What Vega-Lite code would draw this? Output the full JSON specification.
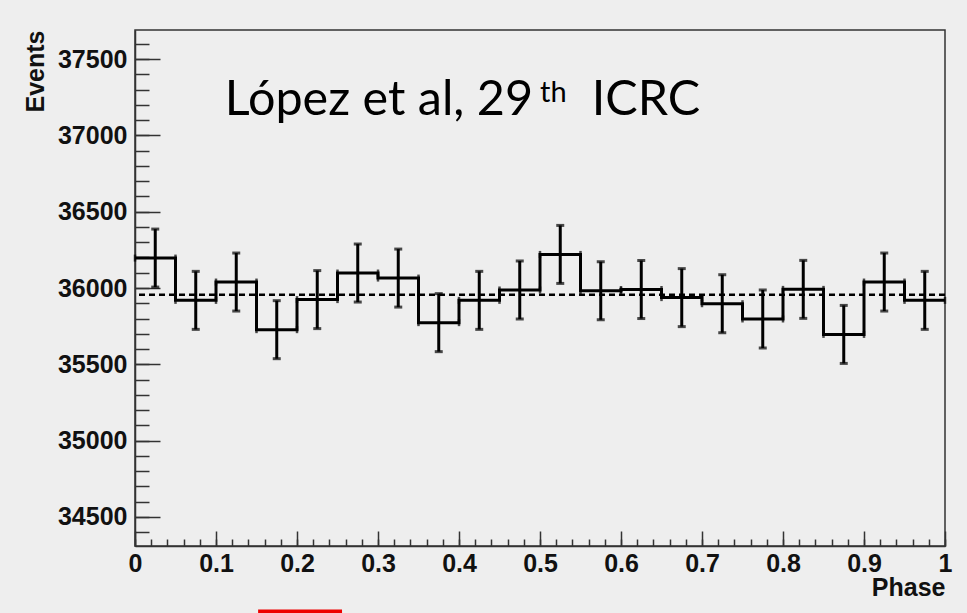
{
  "$schema": "https://vega.github.io/schema/vega-lite/v6.json",
  "width": 810,
  "height": 516,
  "autosize": "none",
  "padding": {"left": 135, "top": 30, "right": 22, "bottom": 67},
  "background": "#eeeeee",
  "view": {"stroke": "#333333", "strokeWidth": 1.5, "fill": null},
  "config": {
    "axis": {
      "labelFont": "Liberation Sans", "labelFontWeight": "bold", "labelFontSize": 25, "labelColor": "#111111",
      "domainColor": "#333333", "domainWidth": 1.5, "tickColor": "#333333", "tickWidth": 1.5, "grid": false,
      "titleFont": "Liberation Sans", "titleFontWeight": "bold", "titleFontSize": 25, "titleColor": "#111111",
      "labelFlush": false, "labelOverlap": false
    }
  },
  "datasets": {
    "bins": [
      {"phase": 0.025, "x0": 0.0, "x1": 0.05, "events": 36196, "lo": 36006, "hi": 36386},
      {"phase": 0.075, "x0": 0.05, "x1": 0.1, "events": 35919, "lo": 35729, "hi": 36109},
      {"phase": 0.125, "x0": 0.1, "x1": 0.15, "events": 36039, "lo": 35849, "hi": 36229},
      {"phase": 0.175, "x0": 0.15, "x1": 0.2, "events": 35727, "lo": 35537, "hi": 35917},
      {"phase": 0.225, "x0": 0.2, "x1": 0.25, "events": 35924, "lo": 35734, "hi": 36114},
      {"phase": 0.275, "x0": 0.25, "x1": 0.3, "events": 36098, "lo": 35908, "hi": 36288},
      {"phase": 0.325, "x0": 0.3, "x1": 0.35, "events": 36065, "lo": 35875, "hi": 36255},
      {"phase": 0.375, "x0": 0.35, "x1": 0.4, "events": 35773, "lo": 35583, "hi": 35963},
      {"phase": 0.425, "x0": 0.4, "x1": 0.45, "events": 35919, "lo": 35729, "hi": 36109},
      {"phase": 0.475, "x0": 0.45, "x1": 0.5, "events": 35987, "lo": 35797, "hi": 36177},
      {"phase": 0.525, "x0": 0.5, "x1": 0.55, "events": 36220, "lo": 36030, "hi": 36410},
      {"phase": 0.575, "x0": 0.55, "x1": 0.6, "events": 35982, "lo": 35792, "hi": 36172},
      {"phase": 0.625, "x0": 0.6, "x1": 0.65, "events": 35990, "lo": 35800, "hi": 36180},
      {"phase": 0.675, "x0": 0.65, "x1": 0.7, "events": 35937, "lo": 35747, "hi": 36127},
      {"phase": 0.725, "x0": 0.7, "x1": 0.75, "events": 35897, "lo": 35707, "hi": 36087},
      {"phase": 0.775, "x0": 0.75, "x1": 0.8, "events": 35797, "lo": 35607, "hi": 35987},
      {"phase": 0.825, "x0": 0.8, "x1": 0.85, "events": 35991, "lo": 35801, "hi": 36181},
      {"phase": 0.875, "x0": 0.85, "x1": 0.9, "events": 35696, "lo": 35506, "hi": 35886},
      {"phase": 0.925, "x0": 0.9, "x1": 0.95, "events": 36039, "lo": 35849, "hi": 36229},
      {"phase": 0.975, "x0": 0.95, "x1": 1.0, "events": 35919, "lo": 35729, "hi": 36109}
    ],
    "steps": [
      {"edge": 0.0, "events": 36196}, {"edge": 0.05, "events": 35919}, {"edge": 0.1, "events": 36039},
      {"edge": 0.15, "events": 35727}, {"edge": 0.2, "events": 35924}, {"edge": 0.25, "events": 36098},
      {"edge": 0.3, "events": 36065}, {"edge": 0.35, "events": 35773}, {"edge": 0.4, "events": 35919},
      {"edge": 0.45, "events": 35987}, {"edge": 0.5, "events": 36220}, {"edge": 0.55, "events": 35982},
      {"edge": 0.6, "events": 35990}, {"edge": 0.65, "events": 35937}, {"edge": 0.7, "events": 35897},
      {"edge": 0.75, "events": 35797}, {"edge": 0.8, "events": 35991}, {"edge": 0.85, "events": 35696},
      {"edge": 0.9, "events": 36039}, {"edge": 0.95, "events": 35919}, {"edge": 1.0, "events": 35919}
    ],
    "one": [{}]
  },
  "layer": [
    {
      "data": {"name": "one"},
      "mark": {"type": "rule", "color": "#000000", "strokeWidth": 2.5, "strokeDash": [6, 4]},
      "encoding": {
        "y": {"datum": 35956, "type": "quantitative", "scale": {"domain": [34310, 37690], "nice": false, "zero": false}, "axis": null}
      }
    },
    {
      "data": {"name": "steps"},
      "mark": {"type": "line", "interpolate": "step-after", "color": "#000000", "strokeWidth": 3},
      "encoding": {
        "x": {"field": "edge", "type": "quantitative", "scale": {"domain": [0, 1], "nice": false, "zero": false},
          "axis": {"orient": "bottom", "values": [0, 0.1, 0.2, 0.3, 0.4, 0.5, 0.6, 0.7, 0.8, 0.9, 1],
            "format": "~g", "tickSize": -15, "labelPadding": 20, "title": "Phase", "titleFontSize": 25,
            "titleX": 810, "titleY": 49, "titleAlign": "right", "titleBaseline": "alphabetic", "titleAngle": 0}},
        "y": {"field": "events", "type": "quantitative", "scale": {"domain": [34310, 37690], "nice": false, "zero": false},
          "axis": {"orient": "left", "values": [34500, 35000, 35500, 36000, 36500, 37000, 37500],
            "format": "d", "tickSize": -25, "labelPadding": 33, "title": "Events",
            "titleAngle": -90, "titleX": -92, "titleY": 0, "titleAlign": "right", "titleBaseline": "alphabetic"}}
      }
    },
    {
      "data": {"name": "bins"},
      "mark": {"type": "rule", "color": "#000000", "strokeWidth": 3},
      "encoding": {
        "x": {"field": "phase", "type": "quantitative", "scale": {"domain": [0, 1], "nice": false, "zero": false},
          "axis": {"orient": "bottom", "values": [0, 0.02, 0.04, 0.06, 0.08, 0.1, 0.12, 0.14, 0.16, 0.18, 0.2, 0.22, 0.24, 0.26, 0.28, 0.3, 0.32, 0.34, 0.36, 0.38, 0.4, 0.42, 0.44, 0.46, 0.48, 0.5, 0.52, 0.54, 0.56, 0.58, 0.6, 0.62, 0.64, 0.66, 0.68, 0.7, 0.72, 0.74, 0.76, 0.78, 0.8, 0.82, 0.84, 0.86, 0.88, 0.9, 0.92, 0.94, 0.96, 0.98, 1],
            "tickSize": -7, "labels": false, "domain": false, "title": null}},
        "y": {"field": "lo", "type": "quantitative", "scale": {"domain": [34310, 37690], "nice": false, "zero": false},
          "axis": {"orient": "left", "values": [34400, 34500, 34600, 34700, 34800, 34900, 35000, 35100, 35200, 35300, 35400, 35500, 35600, 35700, 35800, 35900, 36000, 36100, 36200, 36300, 36400, 36500, 36600, 36700, 36800, 36900, 37000, 37100, 37200, 37300, 37400, 37500, 37600],
            "tickSize": -14, "labels": false, "domain": false, "title": null}},
        "y2": {"field": "hi"}
      }
    },
    {
      "data": {"name": "bins"},
      "mark": {"type": "tick", "orient": "horizontal", "color": "#000000", "size": 8, "thickness": 3},
      "encoding": {
        "x": {"field": "phase", "type": "quantitative", "axis": null},
        "y": {"field": "lo", "type": "quantitative", "axis": null}
      }
    },
    {
      "data": {"name": "bins"},
      "mark": {"type": "tick", "orient": "horizontal", "color": "#000000", "size": 8, "thickness": 3},
      "encoding": {
        "x": {"field": "phase", "type": "quantitative", "axis": null},
        "y": {"field": "hi", "type": "quantitative", "axis": null}
      }
    },
    {
      "data": {"name": "bins"},
      "mark": {"type": "tick", "orient": "vertical", "color": "#000000", "size": 7, "thickness": 2.5},
      "encoding": {
        "x": {"field": "x0", "type": "quantitative", "axis": null},
        "y": {"field": "events", "type": "quantitative", "axis": null}
      }
    },
    {
      "data": {"name": "bins"},
      "mark": {"type": "tick", "orient": "vertical", "color": "#000000", "size": 7, "thickness": 2.5},
      "encoding": {
        "x": {"field": "x1", "type": "quantitative", "axis": null},
        "y": {"field": "events", "type": "quantitative", "axis": null}
      }
    },
    {
      "data": {"name": "one"},
      "mark": {"type": "text", "font": "Lato", "fontSize": 48.5, "align": "right", "baseline": "alphabetic", "color": "#000000"},
      "encoding": {
        "x": {"datum": 0.4914, "type": "quantitative", "axis": null},
        "y": {"datum": 37131, "type": "quantitative", "axis": null},
        "text": {"value": "López et al, 29"}
      }
    },
    {
      "data": {"name": "one"},
      "mark": {"type": "text", "font": "Lato", "fontSize": 29, "align": "left", "baseline": "alphabetic", "color": "#000000"},
      "encoding": {
        "x": {"datum": 0.5, "type": "quantitative", "axis": null},
        "y": {"datum": 37218, "type": "quantitative", "axis": null},
        "text": {"value": "th"}
      }
    },
    {
      "data": {"name": "one"},
      "mark": {"type": "text", "font": "Lato", "fontSize": 48.5, "align": "left", "baseline": "alphabetic", "color": "#000000"},
      "encoding": {
        "x": {"datum": 0.5638, "type": "quantitative", "axis": null},
        "y": {"datum": 37131, "type": "quantitative", "axis": null},
        "text": {"value": "ICRC"}
      }
    },
    {
      "data": {"name": "one"},
      "mark": {"type": "rect", "color": "#ee0000", "clip": false},
      "encoding": {
        "x": {"datum": 0.152, "type": "quantitative", "axis": null},
        "x2": {"datum": 0.2556},
        "y": {"datum": 33869, "type": "quantitative", "axis": null},
        "y2": {"datum": 33894}
      }
    }
  ],
  "resolve": {"axis": {"x": "independent", "y": "independent"}}
}
